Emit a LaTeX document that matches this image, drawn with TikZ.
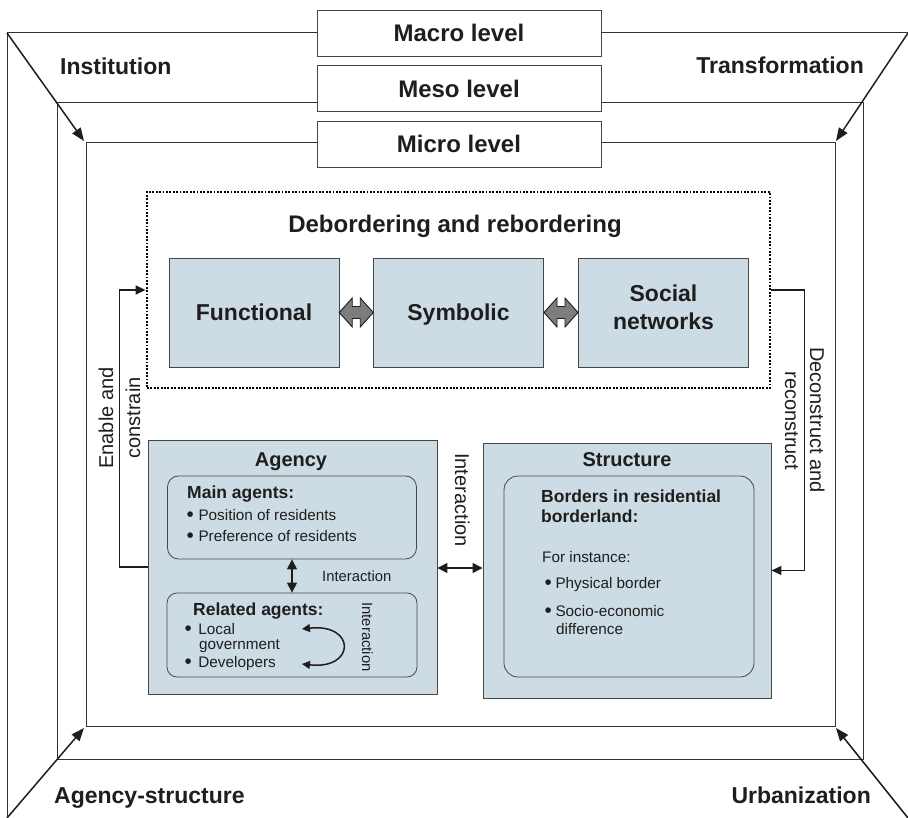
\documentclass[tikz,border=0pt]{standalone}
\usepackage{fontspec}
\setmainfont{Liberation Sans}
\usetikzlibrary{arrows.meta,calc}
\definecolor{boxblue}{RGB}{205,220,228}
\definecolor{edgegray}{RGB}{70,70,70}
\definecolor{arrgray}{RGB}{125,125,125}
\definecolor{ink}{RGB}{30,30,30}
\newcommand{\myfs}[2]{\fontsize{#1}{#2}\selectfont}
\newcommand{\bul}[1]{\raisebox{-1.4pt}{\scalebox{1.35}{\textbullet}}\hspace{#1}}
\tikzset{
  frame/.style={draw=black!80, line width=1pt},
  levelbox/.style={draw=edgegray, fill=white, line width=0.9pt, minimum width=284pt, minimum height=46pt, inner sep=0pt, font=\myfs{24}{28}\bfseries},
  cornerlab/.style={inner sep=0pt, font=\myfs{23}{27}\bfseries},
  dotbox/.style={draw=black, line width=2.8pt, dash pattern=on 1.9pt off 1.5pt, inner sep=0pt},
  bluebox/.style={draw=edgegray, fill=boxblue, line width=0.9pt, inner sep=0pt},
  dbox/.style={bluebox, minimum width=170pt, minimum height=109pt, font=\myfs{23}{28}\bfseries, align=center},
  roundbox/.style={draw=edgegray, line width=0.8pt, inner sep=0pt},
  txt/.style={inner sep=0pt, font=\myfs{15.3}{18}},
  subhead/.style={inner sep=0pt, font=\myfs{17.5}{20}\bfseries},
  headtxt/.style={inner sep=0pt, font=\myfs{20}{24}\bfseries},
  rottxt/.style={inner sep=0pt, font=\myfs{20}{24}},
  smalltxt/.style={inner sep=0pt, font=\myfs{14.8}{18}},
  arr/.style={draw=ink, line width=1.4pt, -{Triangle[length=10pt,width=9pt]}},
  darr/.style={draw=ink, line width=1.4pt, {Triangle[length=10pt,width=10pt]}-{Triangle[length=10pt,width=10pt]}},
  carr/.style={draw=ink, line width=1.5pt, {Triangle[length=8pt,width=8pt]}-{Triangle[length=8pt,width=8pt]}},
  cornerarr/.style={draw=ink, line width=1.5pt, -{Triangle[length=13pt,width=10pt]}},
  grayarr/.style={draw=ink, fill=arrgray, line width=0.9pt, line join=miter}
}
\begin{document}
\begin{tikzpicture}[x=1pt,y=-1pt,text=ink]
\useasboundingbox (0,0) rectangle (908,818);
\fill[white] (0,0) rectangle (908,818);

% frames
\coordinate (otl) at (7,33);
\coordinate (otr) at (908,33);
\coordinate (obl) at (7,818);
\coordinate (obr) at (908,818);
\coordinate (mtl) at (57,103);
\coordinate (mbr) at (863,759);
\coordinate (itl) at (86,143);
\coordinate (ibr) at (835,726);
\draw[frame] (obl) -- (otl) -- (otr);
\draw[frame] (mtl) rectangle (mbr);
\draw[frame] (itl) rectangle (ibr);

% level boxes
\node[levelbox] (macro) at (459,33) {Macro level};
\node[levelbox] (meso) at (459,88.5) {Meso level};
\node[levelbox] (micro) at (459,144) {Micro level};

% corner arrows
\coordinate (ttl) at (84,141);
\coordinate (ttr) at (836,141);
\coordinate (tbl) at (84,728);
\coordinate (tbr) at (836,728);
\draw[cornerarr] (otl) -- (ttl);
\draw[cornerarr] (otr) -- (ttr);
\draw[cornerarr] (obl) -- (tbl);
\draw[cornerarr] (obr) -- (tbr);

% corner labels
\node[cornerlab, anchor=base west] (inst) at (60,75) {Institution};
\node[cornerlab, anchor=base east] (trans) at (864,74) {Transformation};
\node[cornerlab, anchor=base west] (agst) at (54,803) {Agency-structure};
\node[cornerlab, anchor=base east] (urb) at (871,803) {Urbanization};

% debordering box
\node[dotbox, minimum width=623pt, minimum height=196pt] (deb) at (458.5,290) {};
\node[inner sep=0pt, font=\myfs{24}{28}\bfseries, anchor=base] (debt) at (455,233) {Debordering and rebordering};
\node[dbox, text depth=0pt] (fun) at (254,312.5) {Functional};
\node[dbox, text depth=0pt] (sym) at (458.5,312.5) {Symbolic};
\node[dbox, text depth=10pt] (soc) at (663.5,312.5) {Social\\networks};

% gray double arrows
\coordinate (ga1) at ($(fun.east)!0.5!(sym.west)$);
\coordinate (ga2) at ($(sym.east)!0.5!(soc.west)$);
\draw[grayarr] (ga1) ++(-17,0) -- ++(13,-14.5) -- ++(0,8.5) -- ++(8,0) -- ++(0,-8.5) -- ++(13,14.5) -- ++(-13,14.5) -- ++(0,-8.5) -- ++(-8,0) -- ++(0,8.5) -- cycle;
\draw[grayarr] (ga2) ++(-17,0) -- ++(13,-14.5) -- ++(0,8.5) -- ++(8,0) -- ++(0,-8.5) -- ++(13,14.5) -- ++(-13,14.5) -- ++(0,-8.5) -- ++(-8,0) -- ++(0,8.5) -- cycle;

% agency
\node[bluebox, minimum width=289pt, minimum height=254pt] (agency) at (292.5,567) {};
\node[headtxt, anchor=base] (agencyt) at (291,466) {Agency};
\node[roundbox, rounded corners=11pt, minimum width=249pt, minimum height=83pt] (mainag) at (292,517.5) {};
\node[subhead, anchor=base west] (mainagt) at (187,498) {Main agents:};
\node[txt, anchor=base west] (ma1) at (186.5,520) {\bul{4.6pt}Position of residents};
\node[txt, anchor=base west] (ma2) at (186.5,541) {\bul{4.6pt}Preference of residents};
\node[roundbox, rounded corners=10pt, minimum width=250pt, minimum height=84pt] (relag) at (292,635) {};
\node[subhead, anchor=base west] (relagt) at (193,615) {Related agents:};
\node[txt, anchor=base west] (ra1) at (184.5,634) {\bul{6.5pt}Local};
\node[txt, anchor=base west] (ra1b) at (199,649) {government};
\node[txt, anchor=base west] (ra2) at (184.5,667) {\bul{6.5pt}Developers};
\node[smalltxt, anchor=base west] (inter1) at (322,581) {Interaction};
\node[smalltxt, rotate=-90, anchor=base] (inter2) at (362,637) {Interaction};
\draw[darr] (mainag.south) -- (relag.north);
\coordinate (c1) at (302,629);
\coordinate (c2) at (302,664);
\draw[carr] (c1) .. controls (356,623) and (356,670) .. (c2);

% structure
\node[bluebox, minimum width=288pt, minimum height=255pt] (struct) at (627,570.5) {};
\node[headtxt, anchor=base] (structt) at (627,466) {Structure};
\node[roundbox, rounded corners=14pt, minimum width=250pt, minimum height=201pt] (borders) at (629,576.5) {};
\node[subhead, anchor=base west] (bt1) at (541,502) {Borders in residential};
\node[subhead, anchor=base west] (bt2) at (541,522) {borderland:};
\node[txt, anchor=base west] (fi) at (542,562) {For instance:};
\node[txt, anchor=base west] (pb) at (544.5,588) {\bul{3.6pt}Physical border};
\node[txt, anchor=base west] (se1) at (544.5,616) {\bul{3.6pt}Socio-economic};
\node[txt, anchor=base west] (se2) at (556,634) {difference};

% interaction between agency and structure
\coordinate (ia1) at ($(agency.east)+(0,1)$);
\draw[darr] (ia1) -- (ia1 -| struct.west);
\node[rottxt, rotate=-90, anchor=base] (inter3) at (455,500) {Interaction};

% enable and constrain
\draw[arr] (agency.west) -| ($(deb.west)+(-26,0)$) -- (deb.west);
\node[rottxt, rotate=90, anchor=base] (en1) at (113,418) {Enable and};
\node[rottxt, rotate=90, anchor=base] (en2) at (140,418) {constrain};

% deconstruct and reconstruct
\draw[arr] (deb.east) -- ++(33,0) |- (struct.east);
\node[rottxt, rotate=-90, anchor=base] (dc1) at (810,420) {Deconstruct and};
\node[rottxt, rotate=-90, anchor=base] (dc2) at (785,421) {reconstruct};
\end{tikzpicture}
\end{document}
